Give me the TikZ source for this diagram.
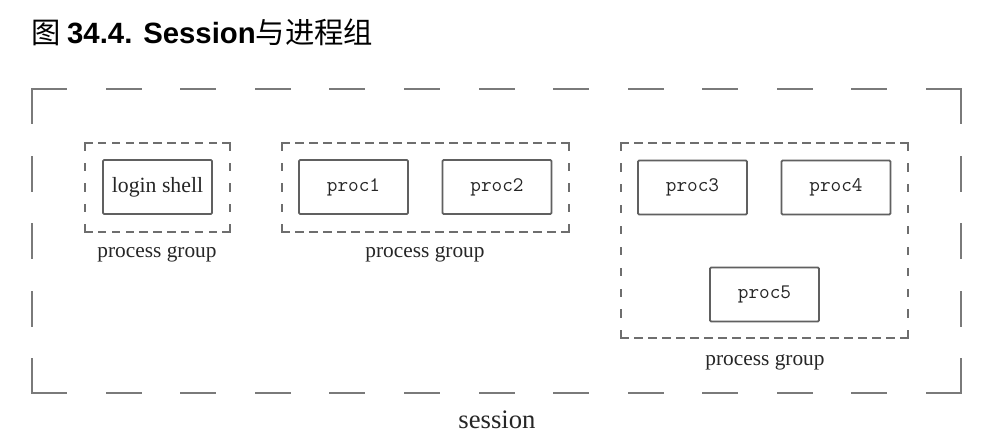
\documentclass[tikz,border=0pt]{standalone}
\usepackage{fontspec}
\setmainfont{Liberation Serif}
\newfontfamily\cjkfont{Noto Sans CJK SC}
\newfontfamily\arialfont{Liberation Sans}
\newfontfamily\courfont{Latin Modern Mono}
\definecolor{sessgray}{HTML}{7A7A7A}
\definecolor{grpgray}{HTML}{6E6E6E}
\definecolor{boxgray}{HTML}{606060}
\definecolor{txtgray}{HTML}{262626}
\newcommand\myDashH[6]{%
  \pgfmathsetmacro\myLen{abs(#2-#1)}%
  \pgfmathsetmacro\myNum{max(2,round((\myLen+#5)/(#4+#5)))}%
  \pgfmathsetmacro\myGap{(\myLen-\myNum*#4)/(\myNum-1)*0.75}%
  \pgfmathsetmacro\myDsh{#4*0.75}%
  \draw[#6,dash pattern=on \myDsh pt off \myGap pt] (#1,#3) -- (#2,#3);}
\newcommand\myDashV[6]{%
  \pgfmathsetmacro\myLen{abs(#2-#1)}%
  \pgfmathsetmacro\myNum{max(2,round((\myLen+#5)/(#4+#5)))}%
  \pgfmathsetmacro\myGap{(\myLen-\myNum*#4)/(\myNum-1)*0.75}%
  \pgfmathsetmacro\myDsh{#4*0.75}%
  \draw[#6,dash pattern=on \myDsh pt off \myGap pt] (#3,#1) -- (#3,#2);}
\newcommand\myDashRect[8]{%
  \myDashH{#1}{#3}{#2}{#5}{#6}{#8}%
  \myDashH{#1}{#3}{#4}{#5}{#6}{#8}%
  \myDashV{#2}{#4}{#1}{#5}{#7}{#8}%
  \myDashV{#2}{#4}{#3}{#5}{#7}{#8}}
\tikzset{
  sessline/.style={draw=sessgray,line width=1.5pt,line cap=rect},
  grpline/.style={draw=grpgray,line width=1.3pt,line cap=rect},
  procbox/.style={draw=boxgray,line width=1.3pt,rounded corners=0.8pt,
    minimum width=81.75pt,minimum height=40.5pt,inner sep=0pt,
    text=txtgray,font=\courfont\fontsize{15.5pt}{18pt}\selectfont},
  shellbox/.style={procbox,font=\fontsize{16.3pt}{19pt}\selectfont},
  grplabel/.style={anchor=base,inner sep=0pt,text=txtgray,
    font=\fontsize{16pt}{19pt}\selectfont},
}
\begin{document}
\begin{tikzpicture}[x=0.75pt,y=-0.75pt]
\fill[white] (0,0) rectangle (995,444);
\useasboundingbox (0,0) rectangle (995,444);
% title
\node[anchor=base west,inner sep=0pt] (title) at (31,43.5)
  {\fontsize{22pt}{26pt}\selectfont\cjkfont 图 {\arialfont\bfseries 34.4. Session}与进程组};
% session
\myDashRect{32}{89}{961}{393}{34}{40}{34}{sessline}
\node[anchor=base,inner sep=0pt,text=txtgray,font=\fontsize{20pt}{23pt}\selectfont]
  (session) at (497,428) {session};
% group 1
\myDashRect{85}{143}{230}{232}{6.8}{7.2}{14}{grpline}
\node[shellbox] (shell) at (157.5,187) {login shell};
\node[grplabel] (g1) at (157,257) {process group};
% group 2
\myDashRect{282}{143}{569}{232}{6.8}{7.2}{14}{grpline}
\node[procbox] (p1) at (353.5,187) {proc1};
\node[procbox] (p2) at (497,187) {proc2};
\node[grplabel] (g2) at (425,257) {process group};
% group 3
\myDashRect{621}{143}{908}{338}{6.8}{7.2}{14}{grpline}
\node[procbox] (p3) at (692.5,187.5) {proc3};
\node[procbox] (p4) at (836,187.5) {proc4};
\node[procbox] (p5) at (764.5,294.5) {proc5};
\node[grplabel] (g3) at (765,365) {process group};
\end{tikzpicture}
\end{document}
